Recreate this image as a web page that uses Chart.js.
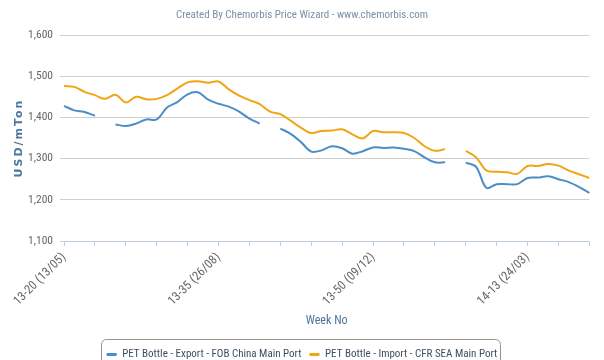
<!DOCTYPE html>
<html><head><meta charset="utf-8">
<script src="https://cdn.jsdelivr.net/npm/chart.js@4/dist/chart.umd.min.js"></script>
<style>html,body{margin:0;padding:0;overflow:hidden;background:#fff}#wrap{width:604px;height:372px}</style>
</head><body><div id="wrap"><canvas id="c" width="604" height="372"></canvas></div>
<script>
const categories = [
 '13-20 (13/05)','13-21 (20/05)','13-22 (27/05)','13-23 (03/06)','13-24 (10/06)','13-25 (17/06)','13-26 (24/06)',
 '13-27 (01/07)','13-28 (08/07)','13-29 (15/07)','13-30 (22/07)','13-31 (29/07)','13-32 (05/08)','13-33 (12/08)',
 '13-34 (19/08)','13-35 (26/08)','13-36 (02/09)','13-37 (09/09)','13-38 (16/09)','13-39 (23/09)','13-40 (30/09)',
 '13-41 (07/10)','13-42 (14/10)','13-43 (21/10)','13-44 (28/10)','13-45 (04/11)','13-46 (11/11)','13-47 (18/11)',
 '13-48 (25/11)','13-49 (02/12)','13-50 (09/12)','13-51 (16/12)','13-52 (23/12)','14-01 (30/12)','14-02 (06/01)',
 '14-03 (13/01)','14-04 (20/01)','14-05 (27/01)','14-06 (03/02)','14-07 (10/02)','14-08 (17/02)','14-09 (24/02)',
 '14-10 (03/03)','14-11 (10/03)','14-12 (17/03)','14-13 (24/03)','14-14 (31/03)','14-15 (07/04)','14-16 (14/04)',
 '14-17 (21/04)','14-18 (28/04)','14-19 (05/05)'];
const exportFOB = [
 1428,1417,1413,1404,null,1383,1379,1385,1395,1395,1424,1437,1456,1461,1443,1433,1426,1414,1397,1385,null,
 1373,1360,1340,1317,1320,1330,1325,1312,1318,1327,1326,1327,1324,1318,1303,1291,1291,null,
 1290,1280,1229,1238,1238,1238,1253,1254,1257,1250,1243,1231,1217];
const importCFR = [
 1476,1474,1462,1454,1445,1455,1436,1450,1444,1445,1454,1470,1485,1488,1484,1487,1468,1453,1442,1432,1414,
 1408,1392,1375,1362,1367,1368,1371,1359,1349,1367,1364,1364,1362,1350,1330,1319,1323,null,
 1319,1303,1271,1268,1267,1263,1282,1282,1287,1283,1271,1262,1253];
const seriesNames = ['PET Bottle - Export - FOB China Main Port','PET Bottle - Import - CFR SEA Main Port'];
const yTicks = [1100,1200,1300,1400,1500,1600];
const xTickLabels = ['13-20 (13/05)','13-35 (26/08)','13-50 (09/12)','14-13 (24/03)'];
const xTickEvery = 3;

const FONT = "'Roboto Condensed','DejaVu Sans Condensed',sans-serif";
Chart.defaults.font.family = FONT;

const legendBorder = {
  id: 'legendBorder',
  afterDraw(chart) {
    const lg = chart.legend;
    if (!lg || !lg.legendHitBoxes || !lg.legendHitBoxes.length) return;
    const hb = lg.legendHitBoxes;
    const l = Math.round(hb[0].left - 6);
    const last = hb[hb.length - 1];
    const r = Math.round(last.left + last.width + 3);
    const t = Math.round(hb[0].top - 10);
    const ctx = chart.ctx;
    ctx.save();
    ctx.strokeStyle = '#959595';
    ctx.lineWidth = 1;
    ctx.beginPath();
    ctx.roundRect(l + 0.5, t + 0.5, r - l, 30, 5);
    ctx.stroke();
    ctx.restore();
  }
};

// spaced-out y axis title (as in the reference)
const spacedYTitle = {
  id: 'spacedYTitle',
  afterLayout(chart) {
    const s = chart.scales.y;
    if (s && !s._spacedTitle) {
      const orig = s.drawTitle.bind(s);
      s.drawTitle = function () {
        const c = this.ctx;
        const prev = c.letterSpacing;
        c.letterSpacing = '2px';
        orig();
        c.letterSpacing = prev || '0px';
      };
      s._spacedTitle = true;
    }
  }
};

new Chart(document.getElementById('c'), {
  type: 'line',
  data: {
    labels: categories,
    datasets: [
      { label: seriesNames[0], data: exportFOB, borderColor: '#4b8ec6', backgroundColor: '#4b8ec6' },
      { label: seriesNames[1], data: importCFR, borderColor: '#f0a612', backgroundColor: '#f0a612' }
    ]
  },
  options: {
    responsive: false,
    animation: false,
    devicePixelRatio: 1,
    layout: { padding: { left: 0, right: 0, top: 0, bottom: 2 } },
    elements: {
      line: { borderWidth: 2, tension: 0.35, fill: false },
      point: { radius: 0, hoverRadius: 0 }
    },
    spanGaps: false,
    plugins: {
      tooltip: { enabled: false },
      title: {
        display: true,
        text: 'Created By Chemorbis Price Wizard - www.chemorbis.com',
        color: '#7b8fa6',
        font: { size: 11, weight: 'normal' },
        padding: { top: 9, bottom: 12.8 }
      },
      legend: {
        position: 'bottom',
        labels: {
          boxWidth: 10, boxHeight: 3, padding: 8,
          color: '#3d4f63',
          font: { size: 11 },
          generateLabels(chart) {
            return chart.data.datasets.map((ds, i) => ({
              text: ds.label, fillStyle: ds.borderColor, strokeStyle: ds.borderColor,
              lineWidth: 0, fontColor: '#3d4f63', datasetIndex: i, hidden: false
            }));
          }
        }
      }
    },
    scales: {
      x: {
        type: 'category',
        offset: false,
        afterFit(s) { s.height = 100; },
        border: { display: true, color: '#C0D0E0', width: 1 },
        grid: {
          drawOnChartArea: false, drawTicks: true, tickLength: 5,
          tickColor: (c) => (c.index % xTickEvery === 0 ? '#C0D0E0' : 'rgba(0,0,0,0)')
        },
        ticks: {
          autoSkip: false, minRotation: 45, maxRotation: 45, padding: 4,
          color: '#666', font: { size: 12.5 },
          callback(v, i) { const l = categories[i]; return xTickLabels.includes(l) ? l : ''; }
        },
        title: {
          display: true, text: 'Week No', color: '#4d759e',
          font: { size: 12, weight: 'normal' }, padding: { top: 0, bottom: 13 }
        }
      },
      y: {
        min: 1100, max: 1600,
        afterFit(s) { s.width = 64; },
        afterBuildTicks(s) { s.ticks = yTicks.map(v => ({ value: v })); },
        border: { display: false },
        grid: { color: '#cfcfcf', lineWidth: 1, drawTicks: true, tickLength: 4, tickColor: '#cfcfcf' },
        ticks: {
          color: '#666', font: { size: 11.5 }, padding: 7,
          callback: (v) => Number(v).toLocaleString('en-US')
        },
        title: {
          display: true, text: 'USD/mTon', color: '#4d759e',
          font: { size: 11, weight: 'bold', family: "'DejaVu Sans','Liberation Sans',sans-serif" },
          padding: { top: 13, bottom: 0 }
        }
      },
      yRightSpace: {
        position: 'right',
        display: true,
        afterFit(s) { s.width = 14; },
        border: { display: false },
        grid: { display: false },
        ticks: { display: false }
      }
    }
  },
  plugins: [legendBorder, spacedYTitle]
});
</script></body></html>
